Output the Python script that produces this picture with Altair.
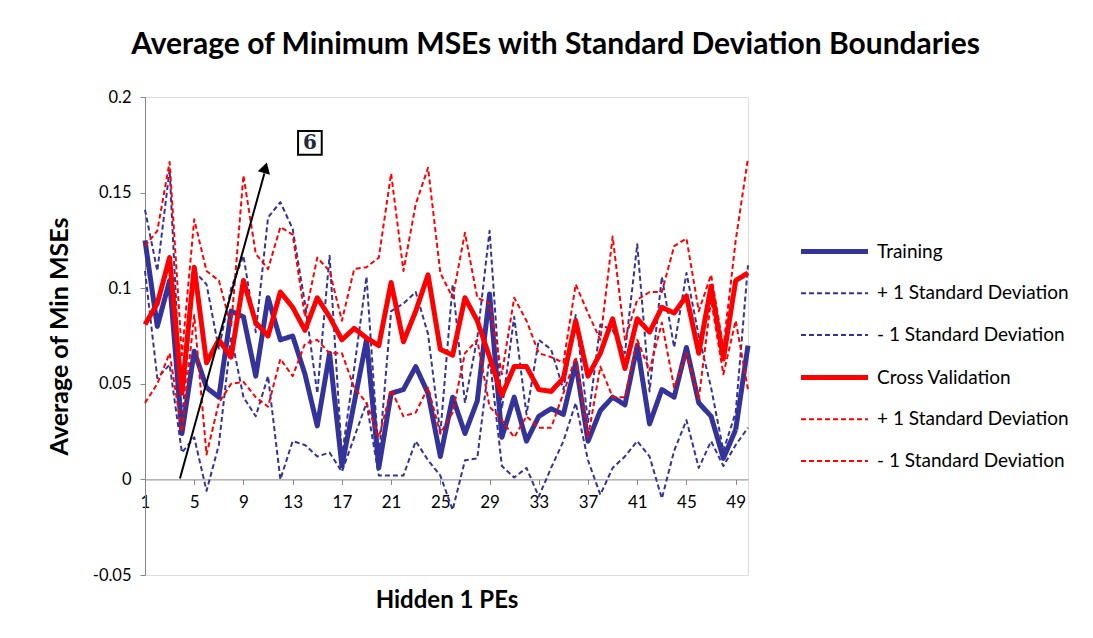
import altair as alt
import pandas as pd

hidden_pes = list(range(1, 51))

training = [0.125, 0.080, 0.104, 0.024, 0.067, 0.048, 0.043, 0.088, 0.085, 0.054,
            0.095, 0.073, 0.075, 0.055, 0.028, 0.066, 0.007, 0.040, 0.073, 0.006,
            0.045, 0.047, 0.059, 0.045, 0.012, 0.043, 0.024, 0.041, 0.097, 0.022,
            0.043, 0.020, 0.033, 0.037, 0.034, 0.061, 0.020, 0.036, 0.043, 0.039,
            0.070, 0.029, 0.047, 0.043, 0.069, 0.040, 0.033, 0.011, 0.026, 0.070]
training_plus = [0.141, 0.109, 0.162, 0.030, 0.109, 0.102, 0.068, 0.100, 0.117, 0.077,
                 0.137, 0.145, 0.131, 0.092, 0.045, 0.117, 0.012, 0.058, 0.106, 0.011,
                 0.088, 0.092, 0.098, 0.076, 0.024, 0.102, 0.040, 0.074, 0.130, 0.037,
                 0.085, 0.034, 0.073, 0.068, 0.047, 0.086, 0.030, 0.081, 0.078, 0.066,
                 0.123, 0.046, 0.106, 0.069, 0.108, 0.075, 0.048, 0.015, 0.035, 0.112]
training_minus = [0.109, 0.053, 0.060, 0.014, 0.022, -0.006, 0.018, 0.075, 0.043, 0.033,
                  0.054, 0.000, 0.020, 0.018, 0.012, 0.014, 0.004, 0.022, 0.040, 0.002,
                  0.002, 0.002, 0.020, 0.010, 0.002, -0.016, 0.010, 0.011, 0.064, 0.007,
                  0.001, 0.006, -0.009, 0.006, 0.020, 0.040, 0.010, -0.008, 0.006, 0.012,
                  0.020, 0.012, -0.010, 0.015, 0.031, 0.006, 0.020, 0.007, 0.018, 0.027]
cross_val = [0.081, 0.092, 0.116, 0.045, 0.111, 0.061, 0.073, 0.064, 0.104, 0.082,
             0.075, 0.098, 0.090, 0.078, 0.095, 0.085, 0.073, 0.079, 0.074, 0.070,
             0.103, 0.072, 0.088, 0.107, 0.068, 0.065, 0.095, 0.083, 0.064, 0.044,
             0.059, 0.059, 0.047, 0.046, 0.053, 0.083, 0.054, 0.066, 0.084, 0.058,
             0.084, 0.077, 0.090, 0.087, 0.096, 0.066, 0.101, 0.063, 0.104, 0.108]
cross_val_plus = [0.122, 0.130, 0.166, 0.065, 0.136, 0.109, 0.104, 0.080, 0.159, 0.118,
                  0.110, 0.132, 0.128, 0.085, 0.116, 0.109, 0.083, 0.110, 0.111, 0.116,
                  0.160, 0.109, 0.144, 0.163, 0.108, 0.095, 0.129, 0.095, 0.092, 0.055,
                  0.095, 0.083, 0.066, 0.064, 0.061, 0.102, 0.087, 0.073, 0.127, 0.073,
                  0.094, 0.098, 0.098, 0.122, 0.126, 0.088, 0.107, 0.069, 0.125, 0.168]
cross_val_minus = [0.040, 0.050, 0.066, 0.025, 0.086, 0.013, 0.040, 0.050, 0.051, 0.043,
                   0.038, 0.063, 0.054, 0.071, 0.073, 0.066, 0.066, 0.048, 0.040, 0.022,
                   0.047, 0.033, 0.035, 0.048, 0.024, 0.035, 0.066, 0.073, 0.038, 0.031,
                   0.022, 0.033, 0.027, 0.027, 0.045, 0.064, 0.022, 0.059, 0.043, 0.043,
                   0.073, 0.057, 0.082, 0.048, 0.066, 0.042, 0.094, 0.055, 0.083, 0.047]

series_keys = ["1", "2", "3", "4", "5", "6"]
series_labels = ["Training", "+ 1 Standard Deviation", "- 1 Standard Deviation",
                 "Cross Validation", "+ 1 Standard Deviation", "- 1 Standard Deviation"]
series_values = [training, training_plus, training_minus,
                 cross_val, cross_val_plus, cross_val_minus]
series_colors = ["#333399", "#333399", "#333399", "#FF0000", "#FF0000", "#FF0000"]
series_dash = [[1, 0], [5, 3], [5, 3], [1, 0], [5, 3], [5, 3]]
series_width = [5, 2, 2, 5, 2, 2]

x_tick_values = [1, 5, 9, 13, 17, 21, 25, 29, 33, 37, 41, 45, 49]
y_tick_values = [-0.05, 0, 0.05, 0.1, 0.15, 0.2]

arrow_x = [3.84, 10.70]
arrow_y = [0.0005, 0.160]
arrow_head_x = [10.78]
arrow_head_y = [0.163]
badge_x = [14.4]
badge_y = [0.176]
badge_text = ["6"]

rows = []
for key, vals, w in zip(series_keys, series_values, series_width):
    for pe, v in zip(hidden_pes, vals):
        rows.append({"series": key, "pe": pe, "val": v, "w": w})
df = pd.DataFrame(rows)

label_expr = " : ".join(
    f"datum.label == '{k}' ? '{lab}'" for k, lab in zip(series_keys[:-1], series_labels[:-1])
) + f" : '{series_labels[-1]}'"

thick_keys = [k for k, w in zip(series_keys, series_width) if w > 3]
width_expr = " || ".join(f"datum.value == '{k}'" for k in thick_keys) + " ? 5 : 2"

FONT = "Lato"

legend = alt.Legend(
    title=None, orient="none", legendX=680, legendY=145,
    symbolType="stroke", symbolSize=4489, labelExpr=label_expr,
    symbolStrokeWidth=alt.ExprRef(width_expr),
    labelFont=FONT, labelFontSize=19, labelColor="#000000", labelOffset=33,
    rowPadding=21.7, labelLimit=400,
)

x_scale = alt.Scale(domain=[1, 50], nice=False, zero=False)
y_scale = alt.Scale(domain=[-0.05, 0.2], nice=False, zero=False)

lines = alt.Chart(df).mark_line(strokeJoin="round").encode(
    x=alt.X("pe:Q", scale=x_scale,
            axis=alt.Axis(values=x_tick_values, offset=-95.6, title="Hidden 1 PEs",
                          titlePadding=78, titleFont=FONT, titleFontSize=24,
                          titleFontWeight="bold", titleColor="#000000",
                          labelFont=FONT, labelFontSize=17, labelColor="#000000",
                          labelPadding=10, tickSize=5, tickColor="#868686",
                          domainColor="#868686", grid=False, labelFlush=False)),
    y=alt.Y("val:Q", scale=y_scale,
            axis=alt.Axis(values=y_tick_values, title="Average of Min MSEs",
                          labelExpr="replace(format(datum.value, '~g'), '\u2212', '-')",
                          titlePadding=20, titleFont=FONT, titleFontSize=25,
                          titleFontWeight="bold", titleColor="#000000",
                          labelFont=FONT, labelFontSize=16.5, labelColor="#000000",
                          labelPadding=9, tickSize=5, tickColor="#868686",
                          domainColor="#868686", grid=False)),
    color=alt.Color("series:N", scale=alt.Scale(domain=series_keys, range=series_colors), legend=legend),
    strokeDash=alt.StrokeDash("series:N", scale=alt.Scale(domain=series_keys, range=series_dash), legend=legend),
    strokeWidth=alt.StrokeWidth("w:Q", scale=None),
)

arrow_df = pd.DataFrame({"pe": arrow_x, "val": arrow_y})
arrow = alt.Chart(arrow_df).mark_line(color="#000000", strokeWidth=2).encode(
    x=alt.X("pe:Q", scale=x_scale), y=alt.Y("val:Q", scale=y_scale))
head_df = pd.DataFrame({"pe": arrow_head_x, "val": arrow_head_y})
head = alt.Chart(head_df).mark_point(shape="triangle-up", filled=True, color="#000000",
                                     size=160, angle=15.5, opacity=1).encode(
    x=alt.X("pe:Q", scale=x_scale), y=alt.Y("val:Q", scale=y_scale))

badge_df = pd.DataFrame({"pe": badge_x, "val": badge_y, "t": badge_text})
badge_box = alt.Chart(badge_df).mark_point(shape="square", size=560, fill="#FFFFFF",
                                          stroke="#000000", strokeWidth=2, opacity=1).encode(
    x=alt.X("pe:Q", scale=x_scale), y=alt.Y("val:Q", scale=y_scale))
badge_txt = alt.Chart(badge_df).mark_text(font="DejaVu Serif", fontSize=20, fontWeight="bold",
                                         color="#1F2A44", baseline="middle", align="center").encode(
    x=alt.X("pe:Q", scale=x_scale), y=alt.Y("val:Q", scale=y_scale), text="t:N")

chart = alt.layer(lines, arrow, head, badge_box, badge_txt).properties(
    width=603, height=478,
    padding={"left": 137, "top": 89, "right": 330, "bottom": 55},
    autosize=alt.AutoSizeParams(type="none"),
    title=alt.TitleParams("Average of Minimum MSEs with Standard Deviation Boundaries",
                          anchor="middle", dx=109, offset=29, font=FONT, fontSize=30,
                          fontWeight="bold", color="#000000"),
).configure_view(stroke=None).configure(background="#FFFFFF")

chart.save("out.html", embed_options={"renderer": "svg", "actions": False})
